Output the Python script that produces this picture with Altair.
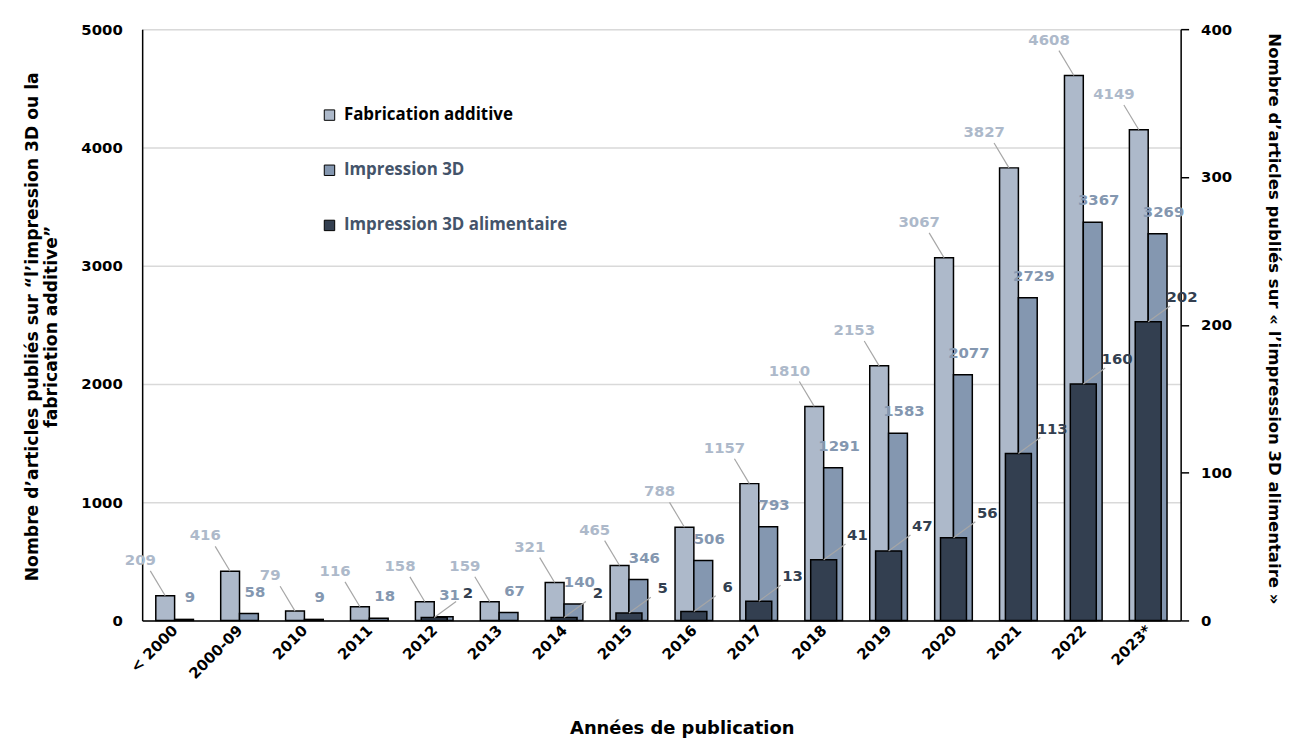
import json
import altair as alt
import pandas as pd

categories = ["< 2000", "2000-09", "2010", "2011", "2012", "2013", "2014", "2015",
              "2016", "2017", "2018", "2019", "2020", "2021", "2022", "2023*"]
fabrication = [209, 416, 79, 116, 158, 159, 321, 465, 788, 1157, 1810, 2153, 3067, 3827, 4608, 4149]
impression = [9, 58, 9, 18, 31, 67, 140, 346, 506, 793, 1291, 1583, 2077, 2729, 3367, 3269]
alimentaire = [None, None, None, None, 2, None, 2, 5, 6, 13, 41, 47, 56, 113, 160, 202]
series = ["Fabrication additive", "Impression 3D", "Impression 3D alimentaire"]
colors = ["#adb9ca", "#8497b0", "#333f50"]
left_ticks = [0, 1000, 2000, 3000, 4000, 5000]
right_ticks = [0, 100, 200, 300, 400]

W = 0.29   # width of a side bar, in category units
WD = 0.2   # half width of the centre bar

rows = []
for i, c in enumerate(categories):
    rows.append({"i": i, "s": 0, "series": series[0], "value": fabrication[i]})
    rows.append({"i": i, "s": 1, "series": series[1], "value": impression[i]})
left_df = pd.DataFrame(rows)
right_df = pd.DataFrame([{"i": i, "series": series[2], "value": v}
                         for i, v in enumerate(alimentaire) if v is not None])

TITLE_FONT = "DejaVu Sans"
label_expr = json.dumps(categories) + "[floor(datum.value)]"
xscale = alt.Scale(domain=[0, len(categories)], nice=False, zero=False)
xaxis = alt.Axis(values=[i + 0.5 for i in range(len(categories))], labelExpr=label_expr,
                 labelAngle=-45, labelAlign="right", labelBaseline="middle",
                 labelFont="DejaVu Sans", labelFontWeight="bold", labelFontSize=15,
                 labelColor="black", labelPadding=7, ticks=False, grid=False,
                 domainColor="black", domainWidth=1.5,
                 title="Années de publication", titleFont=TITLE_FONT, titleFontSize=18,
                 titleFontWeight="bold", titleColor="black", titleX=543, titleY=109,
                 titleBaseline="middle", titleAlign="center")

color_scale = alt.Scale(domain=series, range=colors)

lscale = alt.Scale(domain=[0, 5000], nice=False)
laxis = alt.Axis(values=left_ticks, format="d", labelFont="DejaVu Sans", labelFontWeight="bold",
                 labelFontSize=15, labelColor="black", labelPadding=20, ticks=False,
                 grid=True, gridColor="#d9d9d9", gridWidth=1.5,
                 domainColor="black", domainWidth=1.5,
                 title=["Nombre d’articles publiés sur “l’impression 3D ou la",
                        "fabrication additive”"],
                 titleFont=TITLE_FONT, titleFontSize=17.3, titleFontWeight="bold",
                 titleColor="black", titleAngle=-90, titleX=-119, titleY=299,
                 titleAlign="center", titleBaseline="top", titleLineHeight=19)

base_left = alt.Chart(left_df).transform_calculate(
    x0=f"datum.i + 0.5 + (datum.s - 1) * {W}",
    x1=f"datum.i + 0.5 + datum.s * {W}",
    xc=f"datum.i + 0.5 + (datum.s - 0.5) * {W}",
)

bars_left = base_left.mark_bar(stroke="black", strokeWidth=1.5).encode(
    x=alt.X("x0:Q", scale=xscale, axis=xaxis),
    x2="x1:Q",
    y=alt.Y("value:Q", scale=lscale, axis=laxis),
    y2=alt.datum(0),
    color=alt.Color("series:N", scale=color_scale,
                    legend=alt.Legend(title=None, orient="none", legendX=180, legendY=78,
                                      direction="vertical", symbolType="square",
                                      symbolSize=110, symbolStrokeColor="black",
                                      symbolStrokeWidth=1, rowPadding=37.5, padding=0,
                                      labelFont="Open Sans", labelFontWeight="bold",
                                      labelFontSize=17, labelOffset=6, labelLimit=0,
                                      labelColor={"expr": "datum.label == 'Fabrication additive' ? 'black' : '#44546a'"})),
)

fab_only = base_left.transform_filter("datum.s == 0")
imp_only = base_left.transform_filter("datum.s == 1")

lead_fab = fab_only.mark_rule(color="#a6a6a6", strokeWidth=1.2, x2Offset=-15, y2Offset=-25).encode(
    x="xc:Q", x2="xc:Q", y="value:Q", y2="value:Q")
lab_fab = fab_only.mark_text(font="DejaVu Sans", fontWeight="bold", fontSize=15,
                             dx=-25, dy=-36).encode(
    x="xc:Q", y="value:Q", text="value:Q",
    color=alt.Color("series:N", scale=color_scale, legend=None))
lab_imp = imp_only.mark_text(font="DejaVu Sans", fontWeight="bold", fontSize=15,
                             dx=6, dy=-22).encode(
    x="xc:Q", y="value:Q", text="value:Q",
    color=alt.Color("series:N", scale=color_scale, legend=None))

left_layer = alt.layer(bars_left, lead_fab, lab_fab, lab_imp)

rscale = alt.Scale(domain=[0, 400], nice=False)
raxis = alt.Axis(values=right_ticks, orient="right", format="d", labelFont="DejaVu Sans",
                 labelFontWeight="bold", labelFontSize=15, labelColor="black",
                 labelPadding=12, ticks=True, tickSize=8, tickColor="black", tickWidth=1.5,
                 grid=False, domainColor="black", domainWidth=1.5,
                 title="Nombre d’articles publiés sur « l’impression 3D alimentaire »",
                 titleFont=TITLE_FONT, titleFontSize=16.6, titleFontWeight="bold",
                 titleColor="black", titleAngle=90, titleX=93, titleY=291,
                 titleAlign="center", titleBaseline="middle")

base_right = alt.Chart(right_df).transform_calculate(
    x0=f"datum.i + 0.5 - {WD}",
    x1=f"datum.i + 0.5 + {WD}",
    xc="datum.i + 0.5",
)
bars_right = base_right.mark_bar(stroke="black", strokeWidth=1.5, color=colors[2]).encode(
    x=alt.X("x0:Q", scale=xscale),
    x2="x1:Q",
    y=alt.Y("value:Q", scale=rscale, axis=raxis),
    y2=alt.datum(0),
)
lead_ali = base_right.mark_rule(color="#a6a6a6", strokeWidth=1.2, x2Offset=22, y2Offset=-16).encode(
    x="xc:Q", x2="xc:Q", y="value:Q", y2="value:Q")
lab_ali = base_right.mark_text(font="DejaVu Sans", fontWeight="bold", fontSize=15,
                               color=colors[2], dx=34, dy=-25).encode(
    x="xc:Q", y="value:Q", text="value:Q")

right_layer = alt.layer(bars_right, lead_ali, lab_ali)

chart = alt.layer(left_layer, right_layer).resolve_scale(y="independent").properties(
    width=1045, height=595,
    autosize=alt.AutoSizeParams(type="none"),
    padding={"left": 135, "top": 19, "right": 105, "bottom": 116},
).configure_view(stroke="black", strokeWidth=1.5).configure(background="white")

chart.save("out.html", embed_options={"renderer": "svg", "actions": False})
